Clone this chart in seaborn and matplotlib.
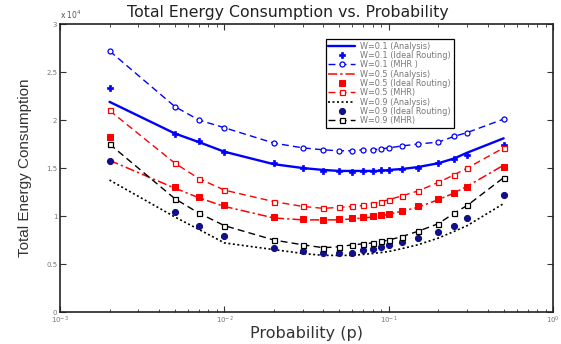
import numpy as np
import pandas as pd
import seaborn as sns
import matplotlib
matplotlib.use("Agg")
import matplotlib.pyplot as plt

# probability values (x axis, log scale)
p = [0.002, 0.005, 0.007, 0.01, 0.02, 0.03, 0.04, 0.05, 0.06, 0.07,
     0.08, 0.09, 0.1, 0.12, 0.15, 0.2, 0.25, 0.3, 0.5]

# total energy consumption, in units of 1e4
w01_analysis = [2.19, 1.86, 1.77, 1.67, 1.54, 1.50, 1.48, 1.47, 1.47, 1.47,
                1.47, 1.47, 1.48, 1.49, 1.51, 1.55, 1.60, 1.66, 1.81]
w01_ideal = [2.33, 1.85, 1.78, 1.67, 1.55, 1.50, 1.47, 1.47, 1.46, 1.47,
             1.47, 1.48, 1.48, 1.49, 1.50, 1.55, 1.59, 1.64, 1.74]
w01_mhr = [2.72, 2.14, 2.00, 1.92, 1.76, 1.71, 1.69, 1.68, 1.68, 1.69,
           1.69, 1.70, 1.71, 1.73, 1.75, 1.77, 1.83, 1.87, 2.01]

w05_analysis = [1.58, 1.29, 1.19, 1.10, 0.98, 0.96, 0.96, 0.96, 0.97, 0.98,
                0.99, 1.00, 1.02, 1.05, 1.09, 1.17, 1.24, 1.31, 1.53]
w05_ideal = [1.82, 1.30, 1.20, 1.12, 0.99, 0.97, 0.96, 0.97, 0.98, 0.99,
             1.00, 1.01, 1.02, 1.05, 1.10, 1.18, 1.24, 1.30, 1.51]
w05_mhr = [2.10, 1.55, 1.39, 1.27, 1.15, 1.10, 1.08, 1.09, 1.10, 1.11,
           1.13, 1.15, 1.17, 1.21, 1.26, 1.35, 1.43, 1.50, 1.71]

w09_analysis = [1.375, 0.99, 0.86, 0.72, 0.65, 0.61, 0.59, 0.59, 0.59, 0.60,
                0.61, 0.62, 0.63, 0.66, 0.70, 0.77, 0.84, 0.90, 1.13]
w09_ideal = [1.57, 1.04, 0.90, 0.79, 0.67, 0.64, 0.62, 0.61, 0.62, 0.645,
             0.66, 0.68, 0.70, 0.73, 0.77, 0.83, 0.90, 0.98, 1.22]
w09_mhr = [1.75, 1.18, 1.03, 0.90, 0.75, 0.70, 0.67, 0.68, 0.70, 0.71,
           0.72, 0.735, 0.75, 0.785, 0.84, 0.92, 1.03, 1.11, 1.40]

series_labels = ["W=0.1 (Analysis)", "W=0.1 (Ideal Routing)", "W=0.1 (MHR )",
                 "W=0.5 (Analysis)", "W=0.5 (Ideal Routing)", "W=0.5 (MHR)",
                 "W=0.9 (Analysis)", "W=0.9 (Ideal Routing)", "W=0.9 (MHR)"]
series_values = [w01_analysis, w01_ideal, w01_mhr,
                 w05_analysis, w05_ideal, w05_mhr,
                 w09_analysis, w09_ideal, w09_mhr]

BLUE, RED, NAVY = "#0000ff", "#ff0000", "#10108a"

# styling per series
styles = [
    dict(color=BLUE, linestyle="-", linewidth=1.7),
    dict(color=BLUE, linestyle="none", marker="P", markersize=4.6,
         markeredgecolor=BLUE, markeredgewidth=0.5),
    dict(color=BLUE, linestyle=(0, (5, 3)), linewidth=1.0, marker="o",
         markersize=3.6, markerfacecolor="white", markeredgecolor=BLUE,
         markeredgewidth=0.9),
    dict(color=RED, linestyle=(0, (6, 2, 1.5, 2)), linewidth=1.1),
    dict(color=RED, linestyle="none", marker="s", markersize=4,
         markeredgecolor=RED),
    dict(color=RED, linestyle=(0, (5, 3)), linewidth=1.0, marker="s",
         markersize=3.6, markerfacecolor="white", markeredgecolor=RED,
         markeredgewidth=0.9),
    dict(color="black", linestyle=(0, (1.2, 1.5)), linewidth=1.2),
    dict(color=NAVY, linestyle="none", marker="o", markersize=4.4,
         markeredgecolor=NAVY),
    dict(color="black", linestyle=(0, (5, 3)), linewidth=1.0, marker="s",
         markersize=3.6, markerfacecolor="white", markeredgecolor="black",
         markeredgewidth=0.9),
]

df = pd.DataFrame({"p": p})
for lab, vals in zip(series_labels, series_values):
    df[lab] = vals

sns.set_style("ticks")
plt.rcParams["font.family"] = ["DejaVu Sans"]

fig = plt.figure(figsize=(5.61, 3.44), dpi=100)
ax = fig.add_axes([0.107, 0.093, 0.879, 0.837])

for lab, st in zip(series_labels, styles):
    sns.lineplot(data=df, x="p", y=lab, ax=ax, label=lab, estimator=None,
                 **st)

ax.set_xscale("log")
ax.set_xlim(1e-3, 1)
ax.set_ylim(0, 3)
ax.set_yticks([0, 0.5, 1, 1.5, 2, 2.5, 3])
ax.set_yticklabels(["0", "0.5", "1", "1.5", "2", "2.5", "3"])

for s in ax.spines.values():
    s.set_visible(True)
    s.set_linewidth(1.2)
    s.set_color("#222222")

ax.tick_params(which="both", direction="in", top=True, right=True,
               labelsize=5, labelcolor="#777777", colors="#333333", pad=2)
ax.tick_params(which="major", length=4, width=0.8)
ax.tick_params(which="minor", length=2, width=0.6)

ax.set_title("Total Energy Consumption vs. Probability", fontsize=11.3,
             color="#222222", pad=5, x=0.463)
ax.set_xlabel("Probability (p)", fontsize=11.5, color="#333333", labelpad=0)
ax.set_ylabel("Total Energy Consumption", fontsize=11,
              family="Liberation Sans", color="#333333", labelpad=10)
ax.text(0.0, 1.012, "x 10$^4$", transform=ax.transAxes, fontsize=5.5,
        color="#555555", ha="left", va="bottom")

leg = ax.legend(loc="upper left", bbox_to_anchor=(0.531, 0.962),
                fontsize=5.9, labelspacing=0.04, handlelength=3.3,
                handletextpad=0.6, borderpad=0.3, fancybox=False,
                framealpha=1, edgecolor="black")
leg.get_frame().set_linewidth(0.9)
for t in leg.get_texts():
    t.set_color("#777777")

fig.savefig("out.png", dpi=100)
